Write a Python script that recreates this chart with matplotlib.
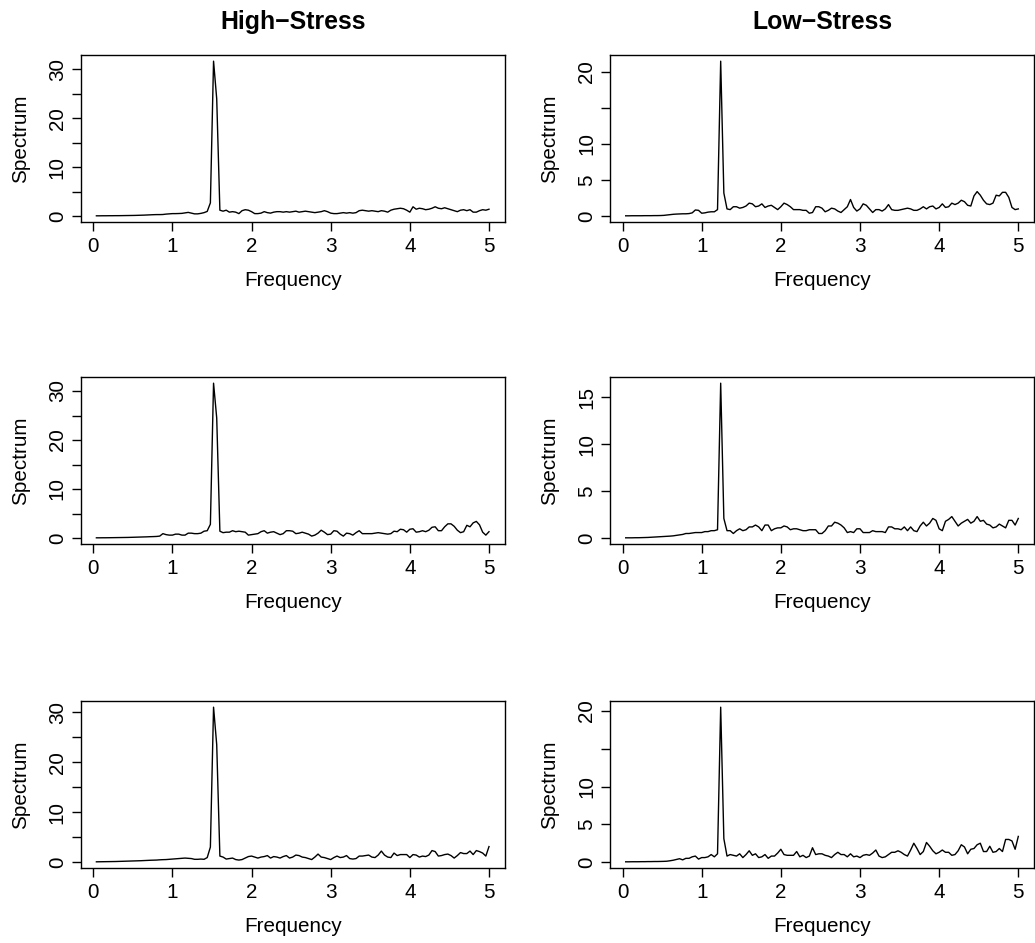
import numpy as np
import matplotlib
matplotlib.use("Agg")
import matplotlib.pyplot as plt

plt.rcParams['font.family'] = ['Liberation Sans', 'DejaVu Sans']

# frequency grid of the periodograms (0.04 .. 5.00)
freq = np.round(np.arange(1, 126) * 0.04, 2)

high_1 = [
    0.05, 0.05, 0.06, 0.06, 0.07, 0.07, 0.08, 0.08, 0.09, 0.10,
    0.11, 0.12, 0.13, 0.15, 0.17, 0.19, 0.22, 0.25, 0.28, 0.30,
    0.30, 0.32, 0.40, 0.45, 0.50, 0.50, 0.52, 0.55, 0.65, 0.75,
    0.60, 0.45, 0.45, 0.55, 0.70, 0.95, 2.7, 31.7, 24.0, 1.2,
    1.0, 1.2, 0.8, 0.9, 0.8, 0.5, 1.1, 1.3, 1.2, 0.9,
    0.5, 0.5, 0.6, 0.9, 0.7, 0.6, 0.8, 0.9, 0.9, 0.8,
    0.9, 0.8, 0.9, 1.0, 0.8, 0.9, 1.0, 0.9, 0.8, 0.7,
    0.8, 0.9, 1.1, 0.9, 0.6, 0.5, 0.5, 0.6, 0.7, 0.6,
    0.7, 0.6, 0.7, 1.1, 1.2, 1.1, 1.0, 1.1, 1.0, 0.9,
    1.1, 1.0, 0.8, 1.2, 1.4, 1.5, 1.6, 1.5, 1.2, 0.8,
    1.9, 1.4, 1.6, 1.5, 1.3, 1.4, 1.6, 1.9, 1.6, 1.5,
    1.7, 1.5, 1.3, 1.1, 0.9, 1.2, 1.3, 1.1, 1.3, 0.8,
    0.8, 1.1, 1.3, 1.2, 1.4,
]
low_1 = [
    0.04, 0.04, 0.05, 0.05, 0.05, 0.05, 0.06, 0.06, 0.06, 0.07,
    0.07, 0.08, 0.10, 0.15, 0.20, 0.25, 0.28, 0.30, 0.32, 0.32,
    0.35, 0.45, 0.85, 0.80, 0.40, 0.45, 0.55, 0.60, 0.60, 0.90,
    21.5, 3.2, 1.0, 0.9, 1.3, 1.3, 1.1, 1.2, 1.4, 1.8,
    1.7, 1.3, 1.4, 1.7, 1.2, 1.4, 1.5, 1.2, 0.9, 1.3,
    1.8, 1.6, 1.3, 0.9, 0.9, 0.9, 0.8, 0.8, 0.4, 0.5,
    1.3, 1.3, 1.1, 0.6, 0.8, 1.1, 1.0, 0.7, 0.5, 0.9,
    1.3, 2.3, 1.2, 0.7, 1.0, 1.7, 1.5, 1.0, 0.5, 0.9,
    0.9, 0.7, 1.0, 1.6, 0.9, 0.8, 0.8, 0.9, 1.0, 1.1,
    1.0, 0.8, 0.8, 1.0, 1.3, 1.0, 1.3, 1.4, 1.0, 1.2,
    1.7, 1.2, 1.3, 1.8, 1.6, 1.8, 2.2, 2.0, 1.5, 1.4,
    2.8, 3.4, 2.9, 2.2, 1.7, 1.6, 1.8, 2.9, 2.8, 3.3,
    3.3, 2.6, 1.2, 0.9, 1.0,
]
high_2 = [
    0.05, 0.05, 0.06, 0.06, 0.07, 0.08, 0.09, 0.10, 0.11, 0.12,
    0.13, 0.15, 0.17, 0.19, 0.21, 0.23, 0.25, 0.28, 0.30, 0.33,
    0.40, 0.90, 0.70, 0.60, 0.60, 0.80, 0.80, 0.60, 0.60, 1.00,
    1.0, 0.9, 0.9, 1.0, 1.4, 1.5, 2.8, 31.6, 24.5, 1.4,
    1.1, 1.2, 1.2, 1.5, 1.3, 1.4, 1.3, 1.2, 0.6, 0.7,
    0.8, 0.9, 1.3, 1.5, 1.0, 1.2, 1.3, 1.0, 0.7, 0.9,
    1.5, 1.5, 1.4, 0.9, 1.0, 1.2, 1.0, 0.8, 0.4, 0.6,
    1.0, 1.6, 1.2, 0.7, 0.8, 1.5, 1.4, 0.8, 0.4, 1.0,
    0.9, 0.6, 1.1, 1.5, 0.9, 0.9, 0.9, 0.9, 1.0, 1.1,
    1.0, 0.9, 0.8, 0.9, 1.4, 1.3, 1.8, 1.7, 1.2, 1.8,
    1.9, 1.2, 1.3, 1.5, 1.3, 1.6, 2.2, 2.3, 1.5, 1.5,
    2.3, 2.9, 2.9, 2.4, 1.6, 1.1, 1.3, 2.6, 2.3, 3.1,
    3.4, 2.7, 1.2, 0.6, 1.3,
]
low_2 = [
    0.04, 0.04, 0.04, 0.05, 0.05, 0.06, 0.07, 0.08, 0.10, 0.12,
    0.14, 0.16, 0.18, 0.20, 0.22, 0.25, 0.30, 0.35, 0.40, 0.50,
    0.50, 0.55, 0.60, 0.60, 0.60, 0.70, 0.70, 0.80, 0.80, 0.90,
    16.5, 2.1, 0.8, 0.8, 0.5, 0.8, 1.0, 0.8, 0.9, 1.2,
    1.2, 1.4, 1.2, 0.8, 1.4, 1.4, 0.8, 1.0, 1.1, 1.1,
    1.3, 1.2, 0.9, 1.0, 1.0, 0.9, 0.8, 0.8, 0.9, 0.9,
    0.9, 0.5, 0.5, 0.8, 1.3, 1.3, 1.7, 1.6, 1.4, 1.1,
    0.6, 0.7, 0.6, 1.0, 1.0, 0.6, 0.6, 0.6, 0.8, 0.7,
    0.7, 0.7, 0.6, 1.2, 1.2, 1.0, 1.0, 0.9, 1.2, 0.8,
    1.2, 0.8, 0.7, 1.3, 1.7, 1.3, 1.6, 2.1, 1.9, 1.0,
    0.8, 1.8, 2.0, 2.3, 1.8, 1.3, 1.6, 1.8, 2.0, 1.6,
    1.8, 2.3, 1.8, 1.9, 1.5, 1.4, 1.1, 1.2, 1.5, 1.3,
    1.1, 1.9, 1.9, 1.4, 2.1,
]
high_3 = [
    0.05, 0.06, 0.07, 0.08, 0.09, 0.10, 0.11, 0.13, 0.15, 0.17,
    0.19, 0.21, 0.23, 0.25, 0.27, 0.30, 0.33, 0.36, 0.38, 0.40,
    0.45, 0.48, 0.50, 0.55, 0.60, 0.65, 0.70, 0.75, 0.80, 0.75,
    0.70, 0.55, 0.55, 0.60, 0.55, 0.90, 3.0, 31.0, 23.5, 1.2,
    1.0, 0.6, 0.7, 0.8, 0.5, 0.4, 0.5, 0.8, 1.1, 1.2,
    1.0, 0.8, 1.0, 1.1, 1.3, 0.8, 1.1, 1.0, 0.8, 1.1,
    1.3, 0.8, 1.0, 1.4, 1.3, 1.0, 0.9, 0.7, 0.5, 1.0,
    1.6, 1.0, 0.9, 0.7, 0.5, 0.9, 1.2, 0.9, 1.0, 1.3,
    0.7, 0.6, 0.7, 1.2, 1.2, 1.3, 1.4, 1.0, 0.9, 1.4,
    2.2, 1.4, 1.0, 0.9, 1.8, 1.3, 1.5, 1.5, 1.5, 0.9,
    1.5, 1.4, 1.0, 1.2, 1.1, 1.4, 2.3, 2.1, 1.2, 1.3,
    1.5, 1.6, 1.3, 0.8, 1.3, 1.9, 1.7, 1.7, 2.2, 1.5,
    2.3, 2.1, 1.8, 1.2, 3.1,
]
low_3 = [
    0.04, 0.04, 0.05, 0.05, 0.05, 0.06, 0.06, 0.07, 0.07, 0.08,
    0.08, 0.09, 0.10, 0.12, 0.18, 0.25, 0.35, 0.45, 0.30, 0.50,
    0.5, 0.7, 0.8, 0.4, 0.6, 0.6, 0.7, 1.0, 0.7, 1.1,
    20.5, 3.1, 0.8, 1.0, 0.9, 0.8, 1.1, 0.6, 1.0, 1.5,
    0.9, 1.1, 0.6, 0.7, 1.0, 0.5, 0.8, 0.8, 1.2, 1.7,
    1.0, 0.9, 0.9, 0.9, 1.4, 0.7, 0.9, 0.6, 0.8, 1.9,
    1.0, 1.1, 1.1, 0.9, 0.8, 0.6, 1.0, 1.3, 1.0, 1.0,
    0.7, 1.1, 0.7, 0.8, 0.6, 0.9, 1.0, 0.9, 1.2, 1.6,
    0.8, 0.6, 0.7, 1.0, 1.3, 1.3, 1.5, 1.3, 1.0, 0.8,
    1.6, 2.5, 1.8, 1.0, 1.4, 2.6, 2.1, 1.5, 1.1, 1.3,
    1.6, 1.3, 1.3, 0.9, 1.0, 1.5, 2.3, 2.0, 1.1, 1.7,
    1.8, 2.3, 2.5, 1.4, 1.4, 2.1, 1.3, 1.4, 1.8, 1.4,
    3.0, 3.0, 2.8, 1.7, 3.4,
]

col_titles = ["High\u2212Stress", "Low\u2212Stress"]
series = [[high_1, low_1], [high_2, low_2], [high_3, low_3]]

# y ticks and which of them carry a label
yticks_high = [0, 5, 10, 15, 20, 25, 30]
ylabels_high = ["0", "", "10", "", "20", "", "30"]
yticks_low = [0, 5, 10, 15, 20]
ylabels_low = ["0", "5", "10", "", "20"]
yticks_low_mid = [0, 5, 10, 15]
ylabels_low_mid = ["0", "5", "10", "15"]
tick_sets = [
    [(yticks_high, ylabels_high), (yticks_low, ylabels_low)],
    [(yticks_high, ylabels_high), (yticks_low_mid, ylabels_low_mid)],
    [(yticks_high, ylabels_high), (yticks_low, ylabels_low)],
]
xticks = [0, 1, 2, 3, 4, 5]

W, H = 1035, 943
fig = plt.figure(figsize=(W / 100, H / 100), dpi=100)

col_left = [80.7, 610.0]
col_width = 424.0
row_top = [55.0, 377.0, 701.0]
row_height = 167.0
fs = 14.9

for r in range(3):
    for c in range(2):
        ax = fig.add_axes([col_left[c] / W, 1 - (row_top[r] + row_height) / H,
                           col_width / W, row_height / H])
        y = np.array(series[r][c])
        ax.plot(freq, y, color='black', lw=1.0)
        # R style 4% padding around the data range
        xr = freq.max() - freq.min()
        ax.set_xlim(freq.min() - 0.04 * xr, freq.max() + 0.04 * xr)
        yr = y.max() - y.min()
        ax.set_ylim(y.min() - 0.04 * yr, y.max() + 0.04 * yr)
        ax.set_xticks(xticks)
        ax.set_xticklabels([str(t) for t in xticks])
        yt, yl = tick_sets[r][c]
        ax.set_yticks(yt)
        ax.set_yticklabels(yl, rotation=90, va='center')
        ax.tick_params(direction='out', length=6.2, width=1.0, labelsize=fs,
                       colors='black')
        ax.tick_params(axis='x', pad=4.8)
        ax.tick_params(axis='y', pad=3.8)
        for s in ax.spines.values():
            s.set_linewidth(1.0)
        ax.set_xlabel("Frequency", fontsize=fs)
        ax.xaxis.set_label_coords(0.5, (row_height - (280 - 55)) / row_height)
        ax.xaxis.label.set_va('center')
        ax.set_ylabel("Spectrum", fontsize=fs)
        ax.yaxis.set_label_coords(-0.143, 0.5)
        ax.yaxis.label.set_va('center')

for c in range(2):
    fig.text((col_left[c] + col_width / 2) / W, 1 - 22 / H, col_titles[c],
             ha='center', va='center', fontsize=fs * 1.2, fontweight='bold')

fig.savefig("out.png", dpi=100)
